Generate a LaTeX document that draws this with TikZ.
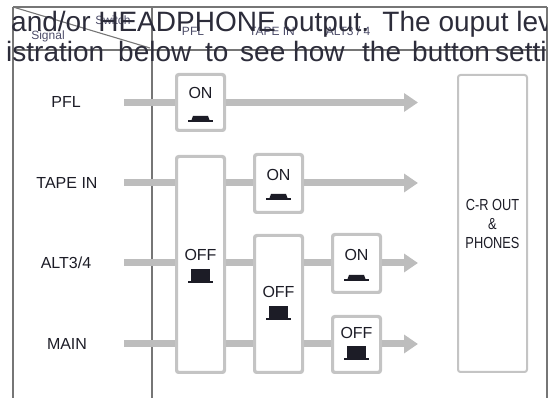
\documentclass[tikz,border=0pt]{standalone}
\usepackage{fontspec}
\setmainfont{Liberation Sans}
\usetikzlibrary{arrows.meta,calc}
\definecolor{wire}{HTML}{BDBDBD}
\definecolor{boxline}{HTML}{C4C4C4}
\definecolor{frame}{HTML}{767676}
\definecolor{ink}{HTML}{1C1C26}
\definecolor{bigink}{HTML}{2C2C3A}
\definecolor{hdr}{HTML}{4C4C68}
\tikzset{
  framel/.style={draw=frame, line width=1.4pt},
  wirel/.style={draw=wire, line width=7pt},
  arrowl/.style={wirel, -{Triangle[length=14pt,width=18pt]}},
  btnbox/.style={draw=boxline, line width=2pt, rounded corners=2.5pt, fill=white, inner sep=0pt, rectangle},
  rowlbl/.style={text=ink, inner sep=0pt, font=\fontsize{16}{18}\selectfont},
  btnlbl/.style={text=ink, inner sep=0pt, font=\fontsize{16}{18}\selectfont},
  hdrlbl/.style={text=hdr, inner sep=0pt, anchor=base, font=\fontsize{12}{14}\selectfont},
  bigtxt/.style={text=bigink, inner sep=0pt, anchor=base west, font=\fontsize{28}{30}\selectfont},
  onicon/.pic={\fill[ink] (-9,-2) -- (-7.5,-6) -- (7.5,-6) -- (9,-2) -- cycle;
               \fill[ink] (-12.5,0) rectangle (12.5,-2.2);},
  officon/.pic={\fill[ink] (-9.5,-2) rectangle (9.5,-14);
                \fill[ink] (-12.5,0) rectangle (12.5,-2.2);}
}
\begin{document}
\begin{tikzpicture}[x=1pt,y=-1pt]
\useasboundingbox (0,0) rectangle (550,398);
% table frame
\coordinate (tl) at (13,7);
\coordinate (tr) at (547,7);
\coordinate (bl) at (13,398);
\coordinate (br) at (547,398);
\coordinate (ct) at (152,7);
\coordinate (cb) at (152,398);
\coordinate (hl) at (13,50);
\coordinate (hr) at (547,50);
\coordinate (dg) at (150,48);
\draw[framel] (tl) -- (tr);
\draw[framel] (tl) -- (bl);
\draw[framel] (tr) -- (br);
\draw[framel] (ct) -- (cb);
\draw[framel] (hl) -- (hr);
\draw[framel, line width=1.1pt] (tl) -- (dg);
% header labels
\node[hdrlbl] (hsw) at (113,25) {Switch};
\node[hdrlbl] (hsig) at (48,40) {Signal};
\node[hdrlbl] (hpfl) at (193,36) {PFL};
\node[hdrlbl] (htape) at (272,36) {TAPE IN};
\node[hdrlbl] (halt) at (348,36) {ALT3 / 4};
% overlapping body text
\begin{scope}
\clip (0,0) rectangle (546,398);
\node[bigtxt] (l1) at (11,32) {and/or HEADPHONE output.\hspace{3pt} The ouput lev};
\node[bigtxt] (w1) at (6,62) {istration};
\node[bigtxt] (w2) at (118,62) {below};
\node[bigtxt] (w3) at (205,62) {to};
\node[bigtxt] (w4) at (240,62) {see};
\node[bigtxt] (w5) at (293,62) {how};
\node[bigtxt] (w6) at (362,62) {the};
\node[bigtxt] (w7) at (412,62) {button};
\node[bigtxt] (w8) at (495,62) {setti};
\end{scope}
% row labels
\node[rowlbl] (rpfl) at (66,102) {PFL};
\node[rowlbl] (rtape) at (67,183) {TAPE IN};
\node[rowlbl] (ralt) at (66,263) {ALT3/4};
\node[rowlbl] (rmain) at (67,344) {MAIN};
% wire coordinates
\coordinate (s1) at (124,102.5);
\coordinate (s2) at (124,183);
\coordinate (s3) at (124,263);
\coordinate (s4) at (124,344);
\coordinate (e1) at (418,102.5);
\coordinate (e2) at (418,183);
\coordinate (e3) at (418,263);
\coordinate (e4) at (418,344);
% boxes
\path (200.5,102.5) node[btnbox, minimum width=47pt, minimum height=55pt] (pflon) {};
\path (200.5,264.5) node[btnbox, minimum width=47pt, minimum height=215pt] (off1) {};
\path (278.5,183.5) node[btnbox, minimum width=47pt, minimum height=57pt] (tapeon) {};
\path (278.5,304) node[btnbox, minimum width=47pt, minimum height=136pt] (off2) {};
\path (356.5,263.5) node[btnbox, minimum width=47pt, minimum height=57pt] (alton) {};
\path (356.5,344.5) node[btnbox, minimum width=47pt, minimum height=55pt] (mainoff) {};
\path (492.5,223.5) node[btnbox, minimum width=69pt, minimum height=297pt, align=center,
   text=ink, font=\fontsize{16}{19}\selectfont] (cr)
   {\scalebox{0.8}[1]{C-R OUT}\\\scalebox{0.8}[1]{\&}\\\scalebox{0.8}[1]{PHONES}};
% wires
\draw[wirel] (s1) -- (s1 -| pflon.west);
\draw[arrowl] (pflon.east |- s1) -- (e1);
\draw[wirel] (s2) -- (s2 -| off1.west);
\draw[wirel] (off1.east |- s2) -- (s2 -| tapeon.west);
\draw[arrowl] (tapeon.east |- s2) -- (e2);
\draw[wirel] (s3) -- (s3 -| off1.west);
\draw[wirel] (off1.east |- s3) -- (s3 -| off2.west);
\draw[wirel] (off2.east |- s3) -- (s3 -| alton.west);
\draw[arrowl] (alton.east |- s3) -- (e3);
\draw[wirel] (s4) -- (s4 -| off1.west);
\draw[wirel] (off1.east |- s4) -- (s4 -| off2.west);
\draw[wirel] (off2.east |- s4) -- (s4 -| mainoff.west);
\draw[arrowl] (mainoff.east |- s4) -- (e4);
% redraw box borders on top of wire ends
\foreach \b in {pflon,off1,tapeon,off2,alton,mainoff}{
  \draw[draw=boxline, line width=2pt, rounded corners=2.5pt] (\b.north west) rectangle (\b.south east);
}
% button labels and icons
\node[btnlbl] (t1) at (200.5,93) {ON};
\pic at (200.5,122) {onicon};
\node[btnlbl] (t2) at (278.5,175) {ON};
\pic at (278.5,200) {onicon};
\node[btnlbl] (t3) at (356.5,255) {ON};
\pic at (356.5,281) {onicon};
\node[btnlbl] (t4) at (356.5,333) {OFF};
\pic at (356.5,360) {officon};
\node[btnlbl] (t5) at (200.5,255) {OFF};
\pic at (200.5,283) {officon};
\node[btnlbl] (t6) at (278.5,292) {OFF};
\pic at (278.5,320) {officon};
\end{tikzpicture}
\end{document}
